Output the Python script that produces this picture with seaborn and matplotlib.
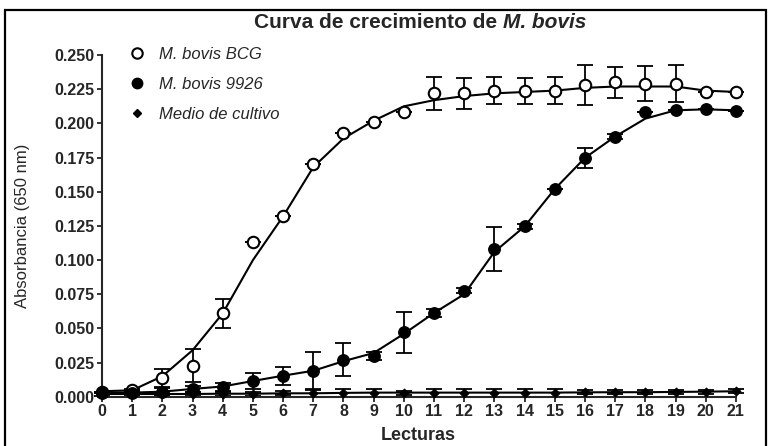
import numpy as np
import pandas as pd
import seaborn as sns
import matplotlib.pyplot as plt
from matplotlib.lines import Line2D
from matplotlib.patches import Rectangle

# Data (readings 0..21)
lecturas = list(range(22))

bcg = [0.0035, 0.005, 0.0135, 0.0226, 0.061, 0.113, 0.132, 0.170, 0.193, 0.201, 0.208,
       0.222, 0.222, 0.224, 0.224, 0.224, 0.228, 0.230, 0.229, 0.229, 0.223, 0.223]
bcg_err = [0, 0.001, 0.0065, 0.012, 0.0105, 0, 0, 0, 0, 0, 0,
           0.012, 0.0115, 0.010, 0.0095, 0.010, 0.0147, 0.0115, 0.0128, 0.0135, 0, 0]
bcg_fit = [0.004, 0.0047, 0.015, 0.034, 0.061, 0.100, 0.132, 0.168, 0.189, 0.202, 0.2125,
           0.217, 0.220, 0.222, 0.223, 0.224, 0.226, 0.227, 0.227, 0.227, 0.224, 0.223]

m9926 = [0.003, 0.003, 0.0037, 0.0057, 0.007, 0.0115, 0.0154, 0.019, 0.027, 0.030, 0.047,
         0.0613, 0.0777, 0.108, 0.1246, 0.152, 0.1748, 0.1904, 0.208, 0.2096, 0.2103, 0.209]
m9926_err = [0, 0.001, 0.003, 0.002, 0.003, 0.006, 0.0065, 0.014, 0.012, 0.003, 0.015,
             0.003, 0.002, 0.016, 0.002, 0, 0.0075, 0.002, 0, 0, 0, 0]
m9926_fit = [0.003, 0.003, 0.0037, 0.0057, 0.0075, 0.0115, 0.0154, 0.019, 0.026, 0.032, 0.046,
             0.0613, 0.075, 0.106, 0.1246, 0.152, 0.1748, 0.1904, 0.2035, 0.2096, 0.2103, 0.2096]

medio = [0.002, 0.002, 0.002, 0.002, 0.0022, 0.0022, 0.0025, 0.0025, 0.0028, 0.003, 0.003,
         0.003, 0.003, 0.003, 0.003, 0.003, 0.0032, 0.0033, 0.0033, 0.0035, 0.0037, 0.004]
medio_err = [0.0015, 0.0015, 0.0015, 0.0015, 0.0015, 0.0015, 0.0015, 0.003, 0.003, 0.003, 0.0015,
             0.003, 0.003, 0.003, 0.003, 0.003, 0.0015, 0.0015, 0.0015, 0.0015, 0.0015, 0.0015]

yticks = np.arange(0, 0.2501, 0.025)

sns.set_style("ticks")
plt.rcParams['font.family'] = ['Liberation Sans', 'DejaVu Sans']

fig = plt.figure(figsize=(7.71, 4.46), dpi=100)
ax = fig.add_axes([0.1323, 0.1105, 0.830, 0.766])

lw = 1.5
# fitted curves
for fit in (bcg_fit, m9926_fit, medio):
    sns.lineplot(x=lecturas, y=fit, color='black', lw=lw, ax=ax, zorder=2)

# error bars
for vals, err in ((bcg, bcg_err), (m9926, m9926_err), (medio, medio_err)):
    ax.errorbar(lecturas, vals, yerr=err, fmt='none', ecolor='black',
                elinewidth=1.3, capsize=5.5, capthick=1.3, zorder=2, clip_on=False)

# markers
sns.scatterplot(x=lecturas, y=bcg, marker='o', s=68, color='white', edgecolor='black',
                linewidth=1.5, ax=ax, zorder=4, clip_on=False)
sns.scatterplot(x=lecturas, y=m9926, marker='o', s=68, color='black', edgecolor='black',
                linewidth=1, ax=ax, zorder=4, clip_on=False)
sns.scatterplot(x=lecturas, y=medio, marker='D', s=20, color='black', edgecolor='black',
                linewidth=0.8, ax=ax, zorder=4, clip_on=False)

ax.set_xlim(0, 21.2)
ax.set_ylim(0, 0.25)
ax.set_xticks(lecturas)
ax.set_yticks(yticks)
ax.set_yticklabels([f"{v:.3f}" for v in yticks])
ax.tick_params(axis='both', direction='out', length=3.5, width=1.3, labelsize=11.5, pad=2)
for lab in ax.get_xticklabels() + ax.get_yticklabels():
    lab.set_fontweight('bold')
sns.despine(ax=ax)
ax.spines['left'].set_bounds(0, 0.25)
ax.spines['bottom'].set_bounds(0, 21)
ax.spines['left'].set_linewidth(1.5)
ax.spines['bottom'].set_linewidth(1.5)
ax.set_xlabel("")
ax.set_ylabel("")

fig.text(23 / 771, 0.493, "Absorbancia (650 nm)", rotation=90, ha='center', va='center',
         fontsize=12)
fig.text(418 / 771, 1 - 435 / 446, "Lecturas", ha='center', va='center', fontsize=13,
         fontweight='bold')

# legend
handles = [
    Line2D([], [], marker='o', ls='none', mfc='white', mec='black', ms=7.5, mew=1.5),
    Line2D([], [], marker='o', ls='none', mfc='black', mec='black', ms=7.5),
    Line2D([], [], marker='D', ls='none', mfc='black', mec='black', ms=4.5),
]
ax.legend(handles, ["M. bovis BCG", "M. bovis 9926", "Medio de cultivo"],
          loc='upper left', bbox_to_anchor=(0.042, 1.025), frameon=False,
          borderaxespad=0, borderpad=0, handlelength=1, handletextpad=0.8,
          labelspacing=0.9, prop={'style': 'italic', 'size': 12})

# title: plain part + italic part, centered as a whole
ty = 1 - 22 / 446
t1 = fig.text(0, ty, "Curva de crecimiento de ", fontsize=15, fontweight='bold',
              va='center', ha='left')
t2 = fig.text(0, ty, "M. bovis", fontsize=15, fontweight='bold', style='italic',
              va='center', ha='left')
fig.canvas.draw()
r = fig.canvas.get_renderer()
w1 = t1.get_window_extent(r).width / fig.bbox.width
w2 = t2.get_window_extent(r).width / fig.bbox.width
x0 = 420 / 771 - (w1 + w2) / 2
t1.set_x(x0)
t2.set_x(x0 + w1)

# outer frame
fig.patches.append(Rectangle((5 / 771, -0.02), 761 / 771, 1 - 10 / 446 + 0.02,
                             transform=fig.transFigure, fill=False, lw=1.6,
                             edgecolor='black'))

fig.savefig("out.png", dpi=100)
